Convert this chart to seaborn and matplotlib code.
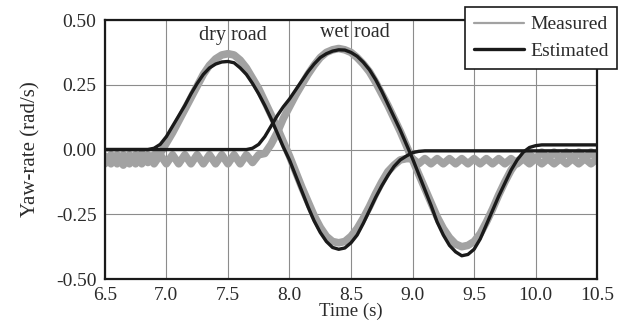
import numpy as np
import pandas as pd
import matplotlib
matplotlib.use("Agg")
import matplotlib.pyplot as plt
import seaborn as sns

# ---- data ----
time = np.round(np.arange(6.5, 10.5001, 0.05), 2)

dry_estimated = [
    0, 0, 0, 0, 0, 0, 0, 0, 0.005, 0.02,
    0.05, 0.09, 0.13, 0.17, 0.215, 0.255, 0.29, 0.315, 0.33, 0.338,
    0.34, 0.335, 0.315, 0.29, 0.255, 0.215, 0.17, 0.12, 0.065, 0.01,
    -0.04, -0.10, -0.16, -0.22, -0.275, -0.32, -0.355, -0.378, -0.385, -0.38,
    -0.36, -0.33, -0.285, -0.235, -0.185, -0.14, -0.10, -0.065, -0.04, -0.025,
    -0.012, -0.007, -0.005, -0.005, -0.005, -0.005, -0.005, -0.005, -0.005, -0.005,
    -0.005, -0.005, -0.005, -0.005, -0.005, -0.005, -0.005, -0.005, -0.005, -0.005,
    -0.005, -0.005, -0.005, -0.005, -0.005, -0.005, -0.005, -0.005, -0.005, -0.005,
    -0.005,
]
wet_estimated = [
    0, 0, 0, 0, 0, 0, 0, 0, 0, 0,
    0, 0, 0, 0, 0, 0, 0, 0, 0, 0,
    0, 0, 0, 0, 0.005, 0.02, 0.05, 0.09, 0.13, 0.165,
    0.195, 0.23, 0.265, 0.30, 0.33, 0.355, 0.37, 0.38, 0.385, 0.384,
    0.375, 0.36, 0.337, 0.308, 0.27, 0.225, 0.175, 0.125, 0.075, 0.02,
    -0.035, -0.095, -0.155, -0.215, -0.28, -0.33, -0.37, -0.395, -0.41, -0.405,
    -0.385, -0.345, -0.29, -0.235, -0.18, -0.13, -0.08, -0.04, -0.01, 0.008,
    0.015, 0.018, 0.018, 0.018, 0.018, 0.018, 0.018, 0.018, 0.018, 0.018,
    0.018,
]
dry_measured = [
    -0.025, -0.055, -0.02, -0.06, -0.02, -0.055, -0.015, -0.05, -0.02, -0.015,
    0.025, 0.065, 0.11, 0.155, 0.20, 0.245, 0.29, 0.325, 0.35, 0.365,
    0.37, 0.365, 0.345, 0.315, 0.275, 0.235, 0.185, 0.135, 0.085, 0.03,
    -0.025, -0.085, -0.145, -0.20, -0.255, -0.30, -0.335, -0.355, -0.36, -0.355,
    -0.335, -0.305, -0.265, -0.22, -0.17, -0.125, -0.085, -0.06, -0.04, -0.035,
    -0.035, -0.055, -0.035, -0.055, -0.035, -0.055, -0.035, -0.055, -0.035, -0.055,
    -0.035, -0.055, -0.035, -0.055, -0.035, -0.055, -0.035, -0.055, -0.035, -0.055,
    -0.035, -0.055, -0.035, -0.055, -0.035, -0.055, -0.035, -0.055, -0.035, -0.055,
    -0.035,
]
wet_measured = [
    -0.055, -0.02, -0.055, -0.02, -0.055, -0.02, -0.055, -0.02, -0.055, -0.02,
    -0.055, -0.02, -0.055, -0.02, -0.055, -0.02, -0.055, -0.02, -0.055, -0.02,
    -0.055, -0.02, -0.055, -0.02, -0.05, -0.02, -0.015, 0.02, 0.065, 0.12,
    0.165, 0.21, 0.25, 0.29, 0.325, 0.355, 0.375, 0.385, 0.39, 0.385,
    0.375, 0.355, 0.33, 0.30, 0.26, 0.215, 0.17, 0.12, 0.07, 0.015,
    -0.04, -0.095, -0.15, -0.205, -0.26, -0.305, -0.34, -0.365, -0.375, -0.37,
    -0.355, -0.325, -0.28, -0.23, -0.175, -0.125, -0.08, -0.045, -0.03, -0.02,
    -0.035, -0.01, -0.035, -0.01, -0.035, -0.01, -0.035, -0.01, -0.035, -0.01,
    -0.035,
]

x_ticks = [6.5, 7.0, 7.5, 8.0, 8.5, 9.0, 9.5, 10.0, 10.5]
x_tick_labels = ["6.5", "7.0", "7.5", "8.0", "8.5", "9.0", "9.5", "10.0", "10.5"]
y_ticks = [-0.5, -0.25, 0.0, 0.25, 0.5]
y_tick_labels = ["-0.50", "-0.25", "0.00", "0.25", "0.50"]
annotations = [("dry road", 7.54, 0.442), ("wet road", 8.53, 0.452)]

# ---- style ----
sns.set_theme(style="white")
plt.rcParams["font.family"] = ["Liberation Serif", "DejaVu Serif"]
text_color = "#2b2b2b"

fig = plt.figure(figsize=(6.24, 3.23), dpi=100)
ax = fig.add_axes([0.168, 0.136, 0.789, 0.802])

grey = "#a2a2a2"
sns.lineplot(x=time, y=dry_measured, ax=ax, color=grey, lw=5.5, label="Measured", zorder=2)
sns.lineplot(x=time, y=wet_measured, ax=ax, color=grey, lw=5.5, zorder=2)
sns.lineplot(x=time, y=dry_estimated, ax=ax, color="#1a1a1a", lw=2.4, label="Estimated", zorder=3)
sns.lineplot(x=time, y=wet_estimated, ax=ax, color="#1a1a1a", lw=2.4, zorder=3)

ax.set_xlim(6.5, 10.5)
ax.set_ylim(-0.5, 0.5)
ax.set_xticks(x_ticks)
ax.set_xticklabels(x_tick_labels)
ax.set_yticks(y_ticks)
ax.set_yticklabels(y_tick_labels)
ax.grid(True, color="#8c8c8c", lw=0.8)
ax.set_axisbelow(True)
ax.tick_params(length=0, labelsize=14, colors=text_color, pad=6)
for s in ax.spines.values():
    s.set_color("#1a1a1a")
    s.set_linewidth(1.6)

ax.set_xlabel("Time (s)", fontsize=13.5, color=text_color, labelpad=-1)
ax.set_ylabel("Yaw-rate (rad/s)", fontsize=15, color=text_color, labelpad=11)

for txt, tx, ty in annotations:
    ax.text(tx, ty, txt, ha="center", va="center", fontsize=14.5, color=text_color)

leg = ax.legend(loc="upper right", bbox_to_anchor=(1.041, 1.05), borderaxespad=0,
                fancybox=False, framealpha=1, edgecolor="#1a1a1a", fontsize=14,
                handlelength=2.6, handletextpad=0.3, borderpad=0.45, labelspacing=0.45)
leg.get_frame().set_linewidth(1.2)
leg.set_zorder(10)
leg.get_lines()[0].set_linewidth(1.6)
for t in leg.get_texts():
    t.set_color(text_color)

fig.savefig("out.png", dpi=100)
